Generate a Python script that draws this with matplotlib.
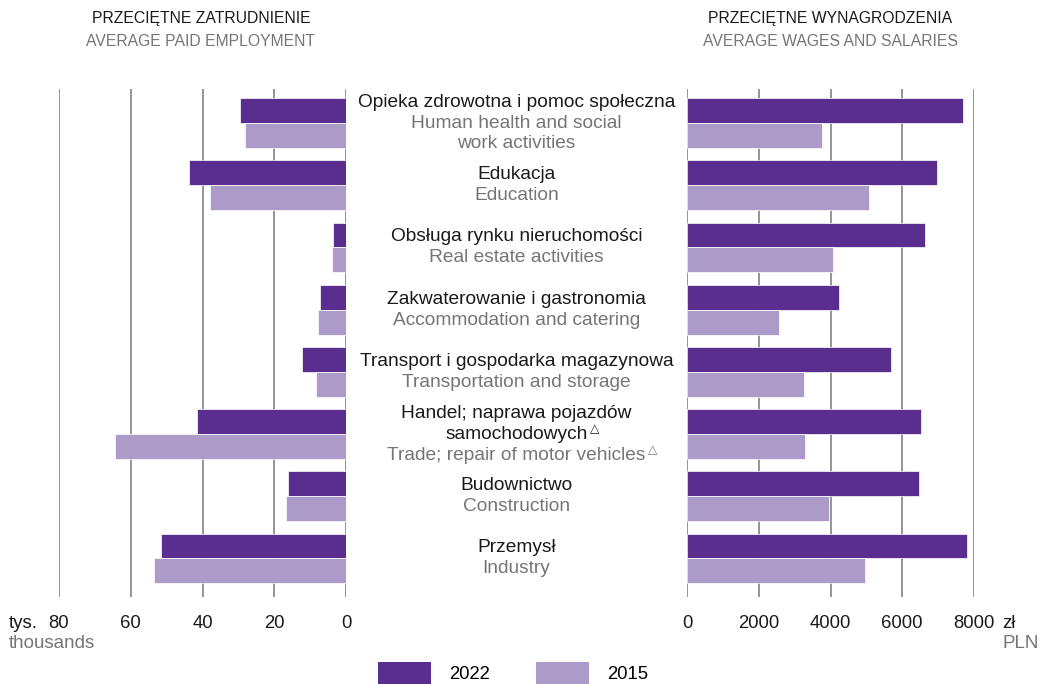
import matplotlib
matplotlib.use("Agg")
import matplotlib.pyplot as plt
import numpy as np
from matplotlib.patches import Patch
from matplotlib.transforms import blended_transform_factory

plt.rcParams['font.family'] = ['Liberation Sans', 'DejaVu Sans']

# ---- data ----
# a trailing "^" marks a line that carries the superscript triangle
labels_pl = [
    "Opieka zdrowotna i pomoc społeczna",
    "Edukacja",
    "Obsługa rynku nieruchomości",
    "Zakwaterowanie i gastronomia",
    "Transport i gospodarka magazynowa",
    "Handel; naprawa pojazdów\nsamochodowych^",
    "Budownictwo",
    "Przemysł",
]
labels_en = [
    "Human health and social\nwork activities",
    "Education",
    "Real estate activities",
    "Accommodation and catering",
    "Transportation and storage",
    "Trade; repair of motor vehicles^",
    "Construction",
    "Industry",
]
employment_2022 = [29.5, 43.8, 3.5, 7.2, 12.4, 41.6, 16.3, 51.5]
employment_2015 = [28.2, 37.8, 3.8, 7.8, 8.4, 64.3, 16.8, 53.5]
wages_2022 = [7700, 6975, 6640, 4240, 5690, 6530, 6470, 7810]
wages_2015 = [3760, 5075, 4070, 2560, 3260, 3290, 3960, 4960]
emp_ticks = [80, 60, 40, 20, 0]
wage_ticks = [0, 2000, 4000, 6000, 8000]
years = ["2022", "2015"]

C22 = "#5a2e8e"
C15 = "#ac9bc8"
GRID = "#8c8c8c"
BLACK = "#1a1a1a"
GRAY = "#757575"

W, H = 1040, 684
fig = plt.figure(figsize=(W / 100, H / 100), dpi=100)

def fx(px):
    return px / W

def fy(py):
    return 1 - py / H

ax_bottom = fy(597)
ax_height = (597 - 89) / H
axL = fig.add_axes([fx(59), ax_bottom, (346 - 59) / W, ax_height])
axR = fig.add_axes([fx(687.3), ax_bottom, (973.7 - 687.3) / W, ax_height])

y = np.arange(len(labels_pl))
bh = 0.4

for ax, v22, v15, ticks in [(axL, employment_2022, employment_2015, emp_ticks),
                            (axR, wages_2022, wages_2015, wage_ticks)]:
    ax.barh(y - bh / 2, v22, height=bh, color=C22, edgecolor="white", linewidth=0.5, zorder=3)
    ax.barh(y + bh / 2, v15, height=bh, color=C15, edgecolor="white", linewidth=0.5, zorder=3)
    ax.set_ylim(7.62, -0.547)
    ax.set_xticks(ticks)
    ax.set_xticklabels([str(t) for t in ticks])
    ax.set_yticks([])
    ax.grid(axis="x", color=GRID, linewidth=1.3, zorder=0)
    for s in ax.spines.values():
        s.set_visible(False)
    ax.tick_params(axis="x", length=0, pad=13, labelsize=13.3, labelcolor=BLACK)

axL.set_xlim(80, 0)
axR.set_xlim(0, 8000)

# category labels in the middle
tr = blended_transform_factory(fig.transFigure, axL.transData)
step = 15.1  # points between lines
for i, (pl, en) in enumerate(zip(labels_pl, labels_en)):
    lines = [(t, BLACK) for t in pl.split("\n")] + [(t, GRAY) for t in en.split("\n")]
    n = len(lines)
    for k, (t, c) in enumerate(lines):
        off = ((n - 1) / 2 - k) * step
        sup = t.endswith("^")
        txt = t.rstrip("^")
        a = axL.annotate(txt, xy=(fx(516.5), i), xycoords=tr, xytext=(0, off),
                         textcoords="offset points", ha="center", va="center",
                         fontsize=13.8, color=c, annotation_clip=False)
        if sup:
            axL.annotate("△", xy=(1.0, 1.0), xycoords=a, xytext=(2.0, 2.5),
                         textcoords="offset points", ha="left", va="top",
                         fontsize=8.8, color=c, family="DejaVu Sans",
                         annotation_clip=False)

# panel titles
fig.text(fx(201), fy(19), "PRZECIĘTNE ZATRUDNIENIE", ha="center", va="center",
         fontsize=11.3, color=BLACK)
fig.text(fx(201), fy(42), "AVERAGE PAID EMPLOYMENT", ha="center", va="center",
         fontsize=11.3, color=GRAY)
fig.text(fx(830.5), fy(19), "PRZECIĘTNE WYNAGRODZENIA", ha="center", va="center",
         fontsize=11.3, color=BLACK)
fig.text(fx(830.5), fy(42), "AVERAGE WAGES AND SALARIES", ha="center", va="center",
         fontsize=11.3, color=GRAY)

# unit labels
fig.text(fx(9), fy(623), "tys.", ha="left", va="center", fontsize=13.5, color=BLACK)
fig.text(fx(9), fy(644), "thousands", ha="left", va="center", fontsize=13.5, color=GRAY)
fig.text(fx(1002), fy(623), "zł", ha="left", va="center", fontsize=13.5, color=BLACK)
fig.text(fx(1002), fy(644), "PLN", ha="left", va="center", fontsize=13.5, color=GRAY)

# legend
handles = [Patch(facecolor=C22, edgecolor="none"), Patch(facecolor=C15, edgecolor="none")]
fig.legend(handles, years, loc="center", bbox_to_anchor=(fx(513), fy(673)),
           ncol=2, frameon=False, fontsize=13.3, handlelength=2.85, handleheight=1.4,
           handletextpad=1.0, columnspacing=2.5, borderpad=0, borderaxespad=0)

fig.savefig("out.png", dpi=100)
